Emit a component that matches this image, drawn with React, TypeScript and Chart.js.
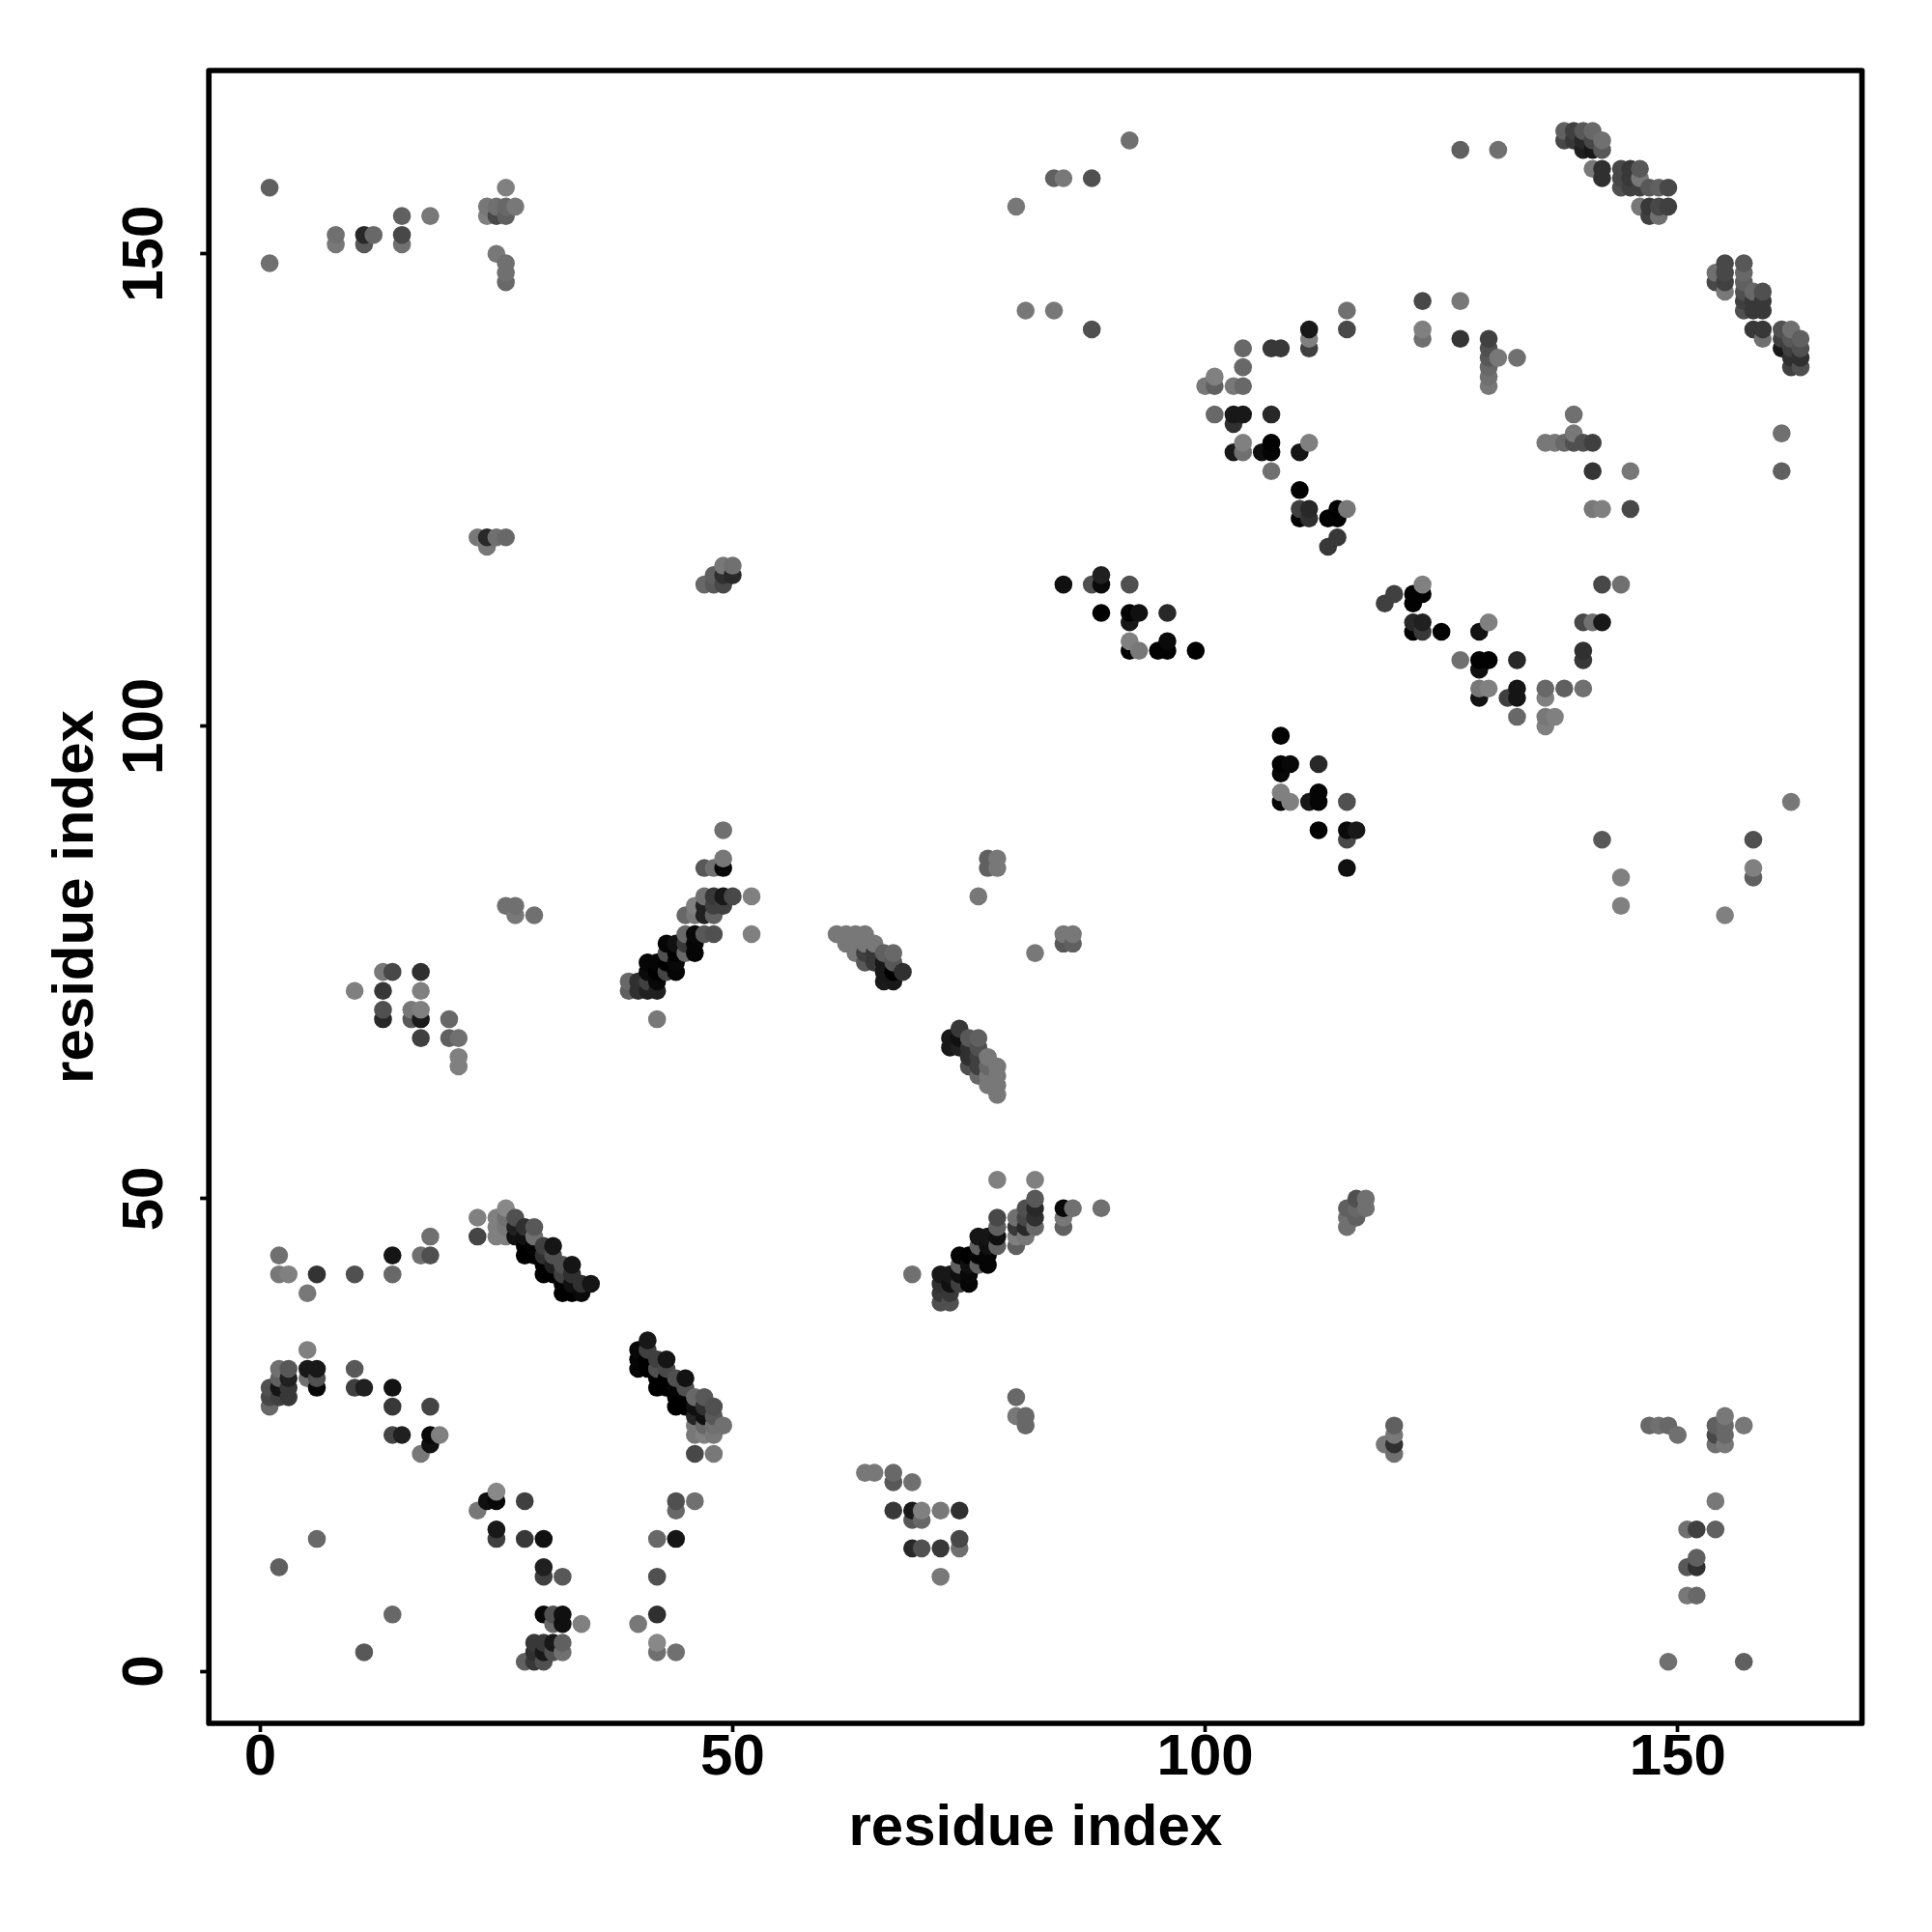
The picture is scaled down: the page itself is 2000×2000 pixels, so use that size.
import React, { useEffect, useRef } from "react";
import { Chart, registerables } from "chart.js";

Chart.register(...registerables);

// Each contact: [residue i, residue j, grey level of the dot]
type Contact = [number, number, number];

const tickValues = [0, 50, 100, 150];
const axisTitle = "residue index";

const contactsLowerLeft: Contact[] = [
  [2,44,0x70],[2,42,0x78],[3,42,0x80],[6,42,0x33],[10,42,0x50],[14,44,0x15],[14,42,0x68],[5,40,0x78],
  [17,44,0x70],[18,44,0x50],[18,46,0x70],[23,48,0x80],[23,46,0x45],
  [5,34,0x80],[2,32,0x70],[3,32,0x58],[5,32,0x18],[6,32,0x18],[5,31,0x70],[6,31,0x50],[6,30,0x08],
  [1,30,0x50],[1,29,0x48],[1,28,0x68],[2,31,0x60],[2,30,0x15],[2,29,0x40],[3,31,0x20],[3,30,0x38],[3,29,0x38],
  [10,32,0x58],[10,30,0x40],[11,30,0x20],[14,30,0x12],[14,28,0x38],[18,28,0x45],
  [14,25,0x45],[15,25,0x20],[18,25,0x08],[18,24,0x10],[19,25,0x80],[17,23,0x78],
];

const contactsHelixA: Contact[] = [
  [25,48,0x80],[25,47,0x80],[25,46,0x80],[26,49,0x88],[26,48,0x70],[26,47,0x78],[26,46,0x80],
  [27,48,0x50],[27,47,0x20],[27,46,0x10],[28,47,0x30],[28,46,0x10],[28,45,0x00],[28,44,0x00],
  [29,47,0x58],[29,46,0x70],[29,45,0x05],[29,44,0x00],[30,45,0x40],[30,44,0x30],[30,43,0x00],[30,42,0x00],
  [31,45,0x15],[31,44,0x50],[31,43,0x20],[31,42,0x00],[32,43,0x50],[32,42,0x40],[32,41,0x00],[32,40,0x00],
  [33,43,0x15],[33,42,0x30],[33,41,0x10],[33,40,0x00],[34,41,0x30],[34,40,0x0a],[35,41,0x15],
];

const contactsHelixB: Contact[] = [
  [41,35,0x18],[40,34,0x08],[40,33,0x05],[40,32,0x05],[41,34,0x40],[41,33,0x00],[41,32,0x00],
  [42,33,0x40],[42,32,0x50],[42,31,0x00],[42,30,0x00],[43,33,0x15],[43,32,0x48],[43,31,0x00],[43,30,0x00],
  [44,31,0x50],[44,30,0x05],[44,29,0x00],[44,28,0x00],[45,31,0x12],[45,30,0x50],[45,29,0x00],[45,28,0x00],
  [46,29,0x68],[46,28,0x10],[46,27,0x25],[46,26,0x78],[46,25,0x78],[47,29,0x58],[47,28,0x30],[47,27,0x10],[47,26,0x68],[47,25,0x80],
  [46,23,0x48],[48,23,0x78],[48,28,0x50],[48,27,0x58],[48,26,0x70],[48,25,0x78],[49,26,0x70],
];

const contactsBottomLeft: Contact[] = [
  [25,19,0x88],[24,18,0x10],[25,18,0x08],[23,17,0x78],[28,18,0x40],[25,15,0x18],[25,14,0x40],[28,14,0x38],[30,14,0x10],
  [30,11,0x20],[30,10,0x40],[32,10,0x58],[30,6,0x08],[31,6,0x50],[31,5,0x68],[32,6,0x10],[32,5,0x10],[34,5,0x80],
  [29,3,0x38],[30,3,0x38],[31,3,0x18],[32,3,0x60],[32,2,0x70],[28,1,0x60],[29,2,0x30],[29,1,0x38],[30,2,0x18],[30,1,0x50],[31,2,0x50],
  [6,14,0x68],[2,11,0x60],[14,6,0x68],[11,2,0x58],
  [44,18,0x50],[46,18,0x70],[44,17,0x68],[42,14,0x68],[44,14,0x15],[42,10,0x50],[42,6,0x30],[40,5,0x78],[42,3,0x88],[42,2,0x70],[44,2,0x70],
];

const contactsMidLeft: Contact[] = [
  [10,72,0x80],[13,74,0x78],[14,74,0x48],[17,74,0x30],[13,72,0x38],[17,72,0x80],[13,70,0x50],[13,69,0x28],
  [16,70,0x78],[16,69,0x58],[17,70,0x80],[17,69,0x1a],[17,67,0x40],[20,69,0x68],[20,67,0x60],[21,67,0x70],[21,65,0x80],[21,64,0x80],
  [26,81,0x70],[27,81,0x70],[27,80,0x78],[29,80,0x70],
];

const contactsStrandC: Contact[] = [
  [49,89,0x70],[49,86,0x78],[49,85,0x08],[47,85,0x58],[48,85,0x70],
  [47,82,0x70],[48,82,0x38],[49,82,0x18],[50,82,0x48],[52,82,0x80],
  [46,81,0x80],[47,81,0x20],[48,81,0x40],[49,81,0x40],[45,80,0x68],[46,80,0x78],[47,80,0x20],[48,80,0x60],
  [45,78,0x68],[46,78,0x08],[47,78,0x58],[48,78,0x50],[52,78,0x80],
  [43,77,0x05],[44,77,0x10],[45,77,0x38],[46,77,0x05],[43,76,0x50],[44,76,0x00],[45,76,0x68],[46,76,0x05],
  [41,75,0x05],[42,75,0x05],[43,75,0x00],[44,75,0x08],[41,74,0x0a],[42,74,0x00],[43,74,0x45],[44,74,0x05],
  [39,73,0x68],[40,73,0x30],[41,73,0x40],[42,73,0x08],[39,72,0x60],[40,72,0x30],[41,72,0x20],[42,72,0x20],[42,69,0x78],
];

const contactsTopLeft: Contact[] = [
  [1,157,0x60],[1,149,0x70],[8,152,0x70],[8,151,0x78],[11,152,0x28],[11,151,0x58],[12,152,0x68],
  [15,154,0x60],[15,152,0x48],[15,151,0x70],[18,154,0x78],
  [24,155,0x78],[24,154,0x80],[25,155,0x70],[25,154,0x48],[26,155,0x68],[26,154,0x60],[27,155,0x78],[26,157,0x80],
  [25,150,0x78],[26,149,0x70],[26,148,0x70],[26,147,0x68],
  [23,120,0x78],[24,120,0x28],[25,120,0x70],[26,120,0x68],[24,119,0x78],
  [49,117,0x78],[50,117,0x70],[48,116,0x60],[49,116,0x30],[50,116,0x28],[47,115,0x68],[48,115,0x58],[49,115,0x48],
];

const contactsMidCentre: Contact[] = [
  [77,86,0x60],[77,85,0x60],[78,86,0x78],[78,85,0x78],[76,82,0x78],
  [61,78,0x78],[62,78,0x78],[63,78,0x78],[64,78,0x78],[62,77,0x78],[63,77,0x78],[64,77,0x78],[65,77,0x78],
  [63,76,0x78],[64,76,0x40],[65,76,0x38],[66,76,0x60],[67,76,0x68],[64,75,0x58],[65,75,0x38],[66,75,0x18],[67,75,0x58],
  [66,74,0x18],[67,74,0x00],[68,74,0x30],[66,73,0x1a],[67,73,0x18],
  [82,76,0x78],[85,78,0x78],[85,77,0x58],[86,78,0x78],[86,77,0x60],
  [74,68,0x38],[73,67,0x18],[73,66,0x18],[74,67,0x10],[74,66,0x20],[75,67,0x58],[76,67,0x60],[75,66,0x30],[76,66,0x50],
  [75,65,0x30],[75,64,0x50],[76,65,0x40],[76,64,0x40],[76,63,0x68],
  [77,65,0x78],[77,64,0x68],[77,63,0x78],[77,62,0x78],[78,64,0x78],[78,63,0x78],[78,62,0x78],[78,61,0x78],
];

const contactsStrandD: Contact[] = [
  [78,52,0x80],[82,52,0x80],[82,50,0x58],[82,49,0x28],[82,48,0x30],[82,47,0x68],
  [81,49,0x50],[81,48,0x48],[81,47,0x28],[81,46,0x78],[80,48,0x70],[80,47,0x38],[80,46,0x80],[80,45,0x60],
  [78,48,0x48],[78,47,0x60],[78,46,0x10],[78,45,0x60],[85,49,0x08],[86,49,0x70],[89,49,0x70],[85,48,0x78],[85,47,0x60],
  [76,46,0x15],[77,46,0x15],[76,45,0x60],[77,45,0x10],[76,44,0x05],[77,44,0x05],[76,43,0x60],[77,43,0x05],
  [74,44,0x05],[75,44,0x00],[74,43,0x60],[75,43,0x10],[74,42,0x10],[75,42,0x08],[74,41,0x40],[75,41,0x05],
  [72,42,0x18],[73,42,0x18],[72,41,0x30],[73,41,0x10],[72,40,0x38],[73,40,0x38],[72,39,0x50],[73,39,0x50],[69,42,0x70],
  [115,49,0x60],[115,48,0x70],[115,47,0x70],[116,50,0x50],[116,49,0x68],[116,48,0x60],[117,50,0x70],[117,49,0x70],
];

const contactsBottomRight: Contact[] = [
  [80,29,0x68],[80,27,0x78],[81,27,0x68],[81,26,0x68],
  [64,21,0x78],[65,21,0x78],[67,21,0x68],[67,20,0x58],[69,20,0x70],
  [67,17,0x38],[69,17,0x18],[70,17,0x80],[72,17,0x78],[74,17,0x30],[69,16,0x58],[70,16,0x68],
  [69,13,0x28],[70,13,0x50],[72,13,0x38],[74,13,0x70],[74,14,0x48],[72,10,0x78],
  [120,26,0x60],[120,25,0x78],[119,24,0x78],[120,24,0x30],[120,23,0x70],
  [147,26,0x68],[148,26,0x70],[149,26,0x68],[150,25,0x70],
  [154,26,0x60],[155,27,0x78],[155,26,0x68],[154,25,0x48],[155,25,0x68],[154,24,0x70],[155,24,0x78],[157,26,0x78],
  [154,18,0x78],[151,15,0x70],[152,15,0x40],[154,15,0x60],[152,12,0x60],[151,11,0x58],[152,11,0x30],[151,8,0x78],[152,8,0x68],
  [149,1,0x70],[157,1,0x60],
];

const contactsTopCentre: Contact[] = [
  [92,162,0x70],[84,158,0x60],[85,158,0x78],[88,158,0x50],[80,155,0x78],[81,144,0x78],[84,144,0x78],[88,142,0x50],
  [104,140,0x68],[107,140,0x38],[108,140,0x38],[111,140,0x40],[111,141,0x80],[111,142,0x18],[115,144,0x70],[115,142,0x48],
  [104,138,0x68],[100,136,0x78],[101,136,0x60],[103,136,0x78],[104,136,0x68],[101,137,0x80],
  [101,133,0x68],[103,133,0x18],[104,133,0x18],[107,133,0x28],[103,132,0x30],
  [103,129,0x18],[104,129,0x70],[104,130,0x80],[106,129,0x10],[107,129,0x05],[107,130,0x02],[110,129,0x15],[111,130,0x80],[107,127,0x70],
  [110,125,0x02],[110,123,0x40],[111,123,0x28],[114,123,0x00],[115,123,0x78],[110,122,0x02],[111,122,0x30],[113,122,0x02],[114,122,0x02],
  [114,120,0x38],[113,119,0x38],
  [85,115,0x10],[88,115,0x50],[89,115,0x0a],[89,116,0x20],[92,115,0x50],[89,112,0x02],[92,112,0x02],[93,112,0x10],[92,111,0x18],[96,112,0x28],
  [92,108,0x02],[92,109,0x80],[93,108,0x78],[95,108,0x02],[96,108,0x02],[96,109,0x0a],[99,108,0x00],
];

const contactsTopRight: Contact[] = [
  [127,161,0x60],[131,161,0x70],
  [138,163,0x60],[139,163,0x40],[140,163,0x58],[141,163,0x68],[138,162,0x48],[139,162,0x38],[140,162,0x28],[141,162,0x48],[142,162,0x70],
  [140,161,0x20],[141,161,0x18],[142,161,0x58],
  [141,159,0x78],[142,159,0x30],[144,159,0x48],[145,159,0x38],[146,159,0x58],[142,158,0x30],[144,158,0x48],[145,158,0x38],[146,158,0x78],
  [144,157,0x50],[145,157,0x40],[146,157,0x40],[147,157,0x58],[148,157,0x60],[149,157,0x48],
  [146,155,0x78],[147,155,0x38],[148,155,0x48],[149,155,0x40],[147,154,0x40],[148,154,0x70],
  [155,149,0x48],[157,149,0x58],[154,148,0x70],[155,148,0x48],[157,148,0x68],[154,147,0x48],[155,147,0x40],[157,147,0x60],
  [155,146,0x78],[157,146,0x50],[158,146,0x68],[159,146,0x50],[157,145,0x40],[158,145,0x38],[159,145,0x38],[157,144,0x50],[158,144,0x38],[159,144,0x38],
  [158,142,0x38],[159,142,0x38],[159,141,0x70],
  [161,142,0x50],[162,142,0x70],[161,141,0x40],[162,141,0x58],[163,141,0x60],[161,140,0x18],[162,140,0x40],[163,140,0x50],
  [162,139,0x30],[163,139,0x30],[162,138,0x40],[163,138,0x50],
  [123,145,0x48],[127,145,0x78],[123,142,0x80],[123,141,0x70],[127,141,0x35],
  [130,141,0x40],[130,140,0x50],[130,139,0x58],[131,139,0x78],[133,139,0x70],[130,138,0x68],[130,137,0x70],[130,136,0x78],
  [139,133,0x70],[139,131,0x78],[136,130,0x78],[137,130,0x78],[138,130,0x68],[139,130,0x50],[140,130,0x50],[141,130,0x40],
  [141,127,0x35],[145,127,0x78],[141,123,0x78],[142,123,0x80],[145,123,0x48],[161,131,0x70],[161,127,0x60],
];

const contactsMidRight: Contact[] = [
  [120,114,0x40],[119,113,0x40],[123,115,0x80],[122,114,0x02],[123,114,0x02],[122,113,0x02],
  [122,111,0x28],[123,111,0x20],[130,111,0x80],[122,110,0x02],[123,110,0x38],[125,110,0x02],[129,110,0x12],
  [140,111,0x48],[141,111,0x70],[142,111,0x18],[142,115,0x48],[144,115,0x70],[140,108,0x30],[140,107,0x38],
  [127,107,0x70],[129,107,0x02],[130,107,0x02],[133,107,0x28],[129,106,0x10],
  [129,104,0x78],[130,104,0x80],[133,104,0x15],[136,104,0x68],[138,104,0x60],[140,104,0x70],
  [129,103,0x12],[132,103,0x40],[133,103,0x15],[136,103,0x80],[133,101,0x68],[136,101,0x78],[137,101,0x80],[136,100,0x80],
  [108,99,0x00],[108,96,0x02],[109,96,0x08],[112,96,0x28],[108,95,0x08],[108,93,0x80],[108,92,0x05],[109,92,0x80],
  [111,92,0x18],[112,92,0x05],[112,93,0x05],[115,92,0x50],[112,89,0x02],[115,89,0x0a],[116,89,0x18],[115,88,0x48],[115,85,0x10],
  [142,88,0x58],[144,84,0x80],[144,81,0x80],[158,88,0x50],[158,85,0x80],[158,84,0x60],[155,80,0x80],[162,92,0x78],
];

const contacts: Contact[] = [
  ...contactsLowerLeft, ...contactsHelixA, ...contactsHelixB, ...contactsBottomLeft, ...contactsMidLeft,
  ...contactsStrandC, ...contactsTopLeft, ...contactsMidCentre, ...contactsStrandD, ...contactsBottomRight,
  ...contactsTopCentre, ...contactsTopRight, ...contactsMidRight,
].sort((a, b) => a[0] - b[0] || a[1] - b[1]);

const framePlugin = {
  id: "frame",
  afterDraw(chart: Chart) {
    const { ctx, chartArea: a } = chart;
    ctx.save();
    ctx.strokeStyle = "#000";
    ctx.lineWidth = 5.7;
    ctx.lineJoin = "round";
    ctx.strokeRect(a.left, a.top, a.right - a.left, a.bottom - a.top);
    ctx.restore();
  },
};

export default function App() {
  const ref = useRef<HTMLCanvasElement>(null);
  useEffect(() => {
    const font = { family: '"Liberation Sans", Arial, sans-serif', weight: "bold" as const, size: 60, lineHeight: 1 };
    const axis = {
      type: "linear" as const,
      grid: { display: true, drawOnChartArea: false, drawTicks: true, tickLength: 9, tickWidth: 3.7, tickColor: "#000" },
      border: { display: false },
      afterBuildTicks: (s: any) => {
        s.ticks = tickValues.map((value) => ({ value }));
      },
    };
    const chart = new Chart(ref.current!, {
      type: "scatter",
      data: {
        datasets: [
          {
            data: contacts.map(([x, y]) => ({ x, y })),
            pointRadius: 9.3,
            pointBorderWidth: 0,
            pointBackgroundColor: contacts.map(([, , g]) => `rgb(${g},${g},${g})`),
            clip: false,
          },
        ],
      },
      options: {
        animation: false,
        responsive: false,
        devicePixelRatio: 1,
        layout: { padding: { top: 73, right: 72.5, left: 0, bottom: 0 } },
        plugins: { legend: { display: false }, tooltip: { enabled: false } },
        scales: {
          x: {
            ...axis,
            min: -5.43,
            max: 169.5,
            ticks: { color: "#000", font, padding: -2.6, maxRotation: 0, minRotation: 0 },
            title: { display: true, text: axisTitle, color: "#000", font, padding: { top: 0, bottom: 76.5 } },
            afterFit: (s: any) => {
              s.height = 216;
            },
          },
          y: {
            ...axis,
            min: -5.52,
            max: 169.4,
            ticks: { color: "#000", font, padding: 5.2, minRotation: 90, maxRotation: 90, crossAlign: "center" },
            title: { display: true, text: axisTitle, color: "#000", font, padding: { top: 49, bottom: 0 } },
            afterFit: (s: any) => {
              s.width = 216.2;
            },
          },
        },
      } as any,
      plugins: [framePlugin],
    });
    return () => chart.destroy();
  }, []);
  return (
    <div style={{ position: "absolute", left: 0, top: 0, width: 2000, height: 2000, background: "#fff" }}>
      <canvas ref={ref} width={2000} height={2000} style={{ display: "block" }} />
    </div>
  );
}
